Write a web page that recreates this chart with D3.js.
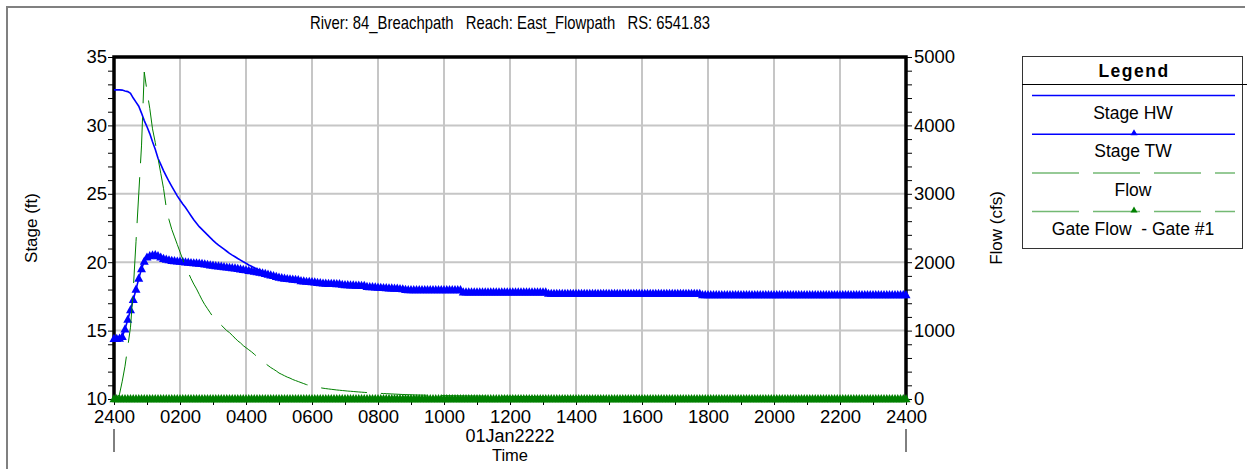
<!DOCTYPE html>
<html>
<head>
<meta charset="utf-8">
<script src="https://cdn.jsdelivr.net/npm/d3@7"></script>
<style>
    body { margin: 0; background: #fff; }
    text { font-family: "Liberation Sans", Arial, sans-serif; fill: #000; }
</style>
</head>
<body>
<svg id="chart" width="1250" height="469"></svg>
<script>
// values every 5 minutes, one row = 1 hour
const stepHours = 5 / 60;

const stageHW = [
    32.6, 32.6, 32.6, 32.58, 32.52, 32.47, 32.35, 32.0, 31.7, 31.4, 30.9, 30.35,
    29.9, 29.4, 28.8, 28.25, 27.6, 27.15, 26.7, 26.3, 25.9, 25.55, 25.2, 24.85,
    24.55, 24.25, 24.0, 23.7, 23.4, 23.1, 22.85, 22.6, 22.4, 22.2, 22.0, 21.8,
    21.6, 21.42, 21.25, 21.1, 20.95, 20.8, 20.65, 20.52, 20.4, 20.27, 20.15, 20.03,
    19.92, 19.8, 19.7, 19.6, 19.5, 19.41, 19.32, 19.24, 19.15, 19.09, 19.02, 18.96,
    18.9, 18.86, 18.83, 18.81, 18.79, 18.77, 18.75, 18.73, 18.66, 18.63, 18.61, 18.6,
    18.58, 18.56, 18.53, 18.51, 18.48, 18.47, 18.46, 18.46, 18.44, 18.43, 18.42, 18.39,
    18.36, 18.35, 18.34, 18.33, 18.32, 18.31, 18.3, 18.29, 18.23, 18.21, 18.2, 18.19,
    18.17, 18.16, 18.14, 18.13, 18.12, 18.11, 18.1, 18.09, 18.07, 18.05, 18.0, 17.99,
    17.98, 17.98, 17.98, 17.98, 17.98, 17.98, 17.98, 17.98, 17.98, 17.98, 17.98, 17.98,
    17.98, 17.98, 17.98, 17.98, 17.98, 17.98, 17.98, 17.81, 17.81, 17.81, 17.81, 17.81,
    17.81, 17.81, 17.81, 17.81, 17.81, 17.81, 17.81, 17.81, 17.81, 17.81, 17.81, 17.81,
    17.81, 17.81, 17.81, 17.81, 17.81, 17.81, 17.81, 17.81, 17.81, 17.81, 17.81, 17.81,
    17.81, 17.81, 17.71, 17.71, 17.71, 17.71, 17.71, 17.71, 17.71, 17.71, 17.71, 17.71,
    17.71, 17.71, 17.71, 17.71, 17.71, 17.71, 17.71, 17.71, 17.71, 17.71, 17.71, 17.71,
    17.71, 17.71, 17.71, 17.71, 17.71, 17.71, 17.71, 17.71, 17.71, 17.71, 17.71, 17.71,
    17.71, 17.71, 17.71, 17.71, 17.71, 17.71, 17.71, 17.71, 17.71, 17.71, 17.71, 17.71,
    17.71, 17.71, 17.71, 17.71, 17.71, 17.71, 17.71, 17.71, 17.71, 17.71, 17.61, 17.61,
    17.61, 17.61, 17.61, 17.61, 17.61, 17.61, 17.61, 17.61, 17.61, 17.61, 17.61, 17.61,
    17.61, 17.61, 17.61, 17.61, 17.61, 17.61, 17.61, 17.61, 17.61, 17.61, 17.61, 17.61,
    17.61, 17.61, 17.61, 17.61, 17.61, 17.61, 17.61, 17.61, 17.61, 17.61, 17.61, 17.61,
    17.61, 17.61, 17.61, 17.61, 17.61, 17.61, 17.61, 17.61, 17.61, 17.61, 17.61, 17.61,
    17.61, 17.61, 17.61, 17.61, 17.61, 17.61, 17.61, 17.61, 17.61, 17.61, 17.61, 17.61,
    17.61, 17.61, 17.61, 17.61, 17.61, 17.61, 17.61, 17.61, 17.61, 17.61, 17.61, 17.61,
    17.61
];

const stageTW = [
    14.4, 14.4, 14.42, 14.55, 15.1, 15.8, 16.5, 17.25, 18.0, 18.8, 19.5, 20.05,
    20.35, 20.45, 20.5, 20.52, 20.45, 20.35, 20.25, 20.2, 20.15, 20.1, 20.08, 20.06,
    20.05, 20.03, 20.0, 19.98, 19.95, 19.93, 19.92, 19.9, 19.88, 19.85, 19.82, 19.78,
    19.75, 19.72, 19.7, 19.68, 19.65, 19.62, 19.6, 19.58, 19.55, 19.52, 19.48, 19.45,
    19.42, 19.38, 19.35, 19.32, 19.28, 19.24, 19.2, 19.15, 19.1, 19.05, 19.0, 18.94,
    18.88, 18.84, 18.8, 18.78, 18.76, 18.74, 18.72, 18.7, 18.62, 18.6, 18.58, 18.57,
    18.55, 18.53, 18.5, 18.48, 18.45, 18.44, 18.43, 18.43, 18.42, 18.41, 18.4, 18.36,
    18.33, 18.33, 18.32, 18.31, 18.3, 18.29, 18.28, 18.27, 18.2, 18.19, 18.18, 18.17,
    18.15, 18.14, 18.12, 18.11, 18.1, 18.09, 18.08, 18.07, 18.05, 18.03, 17.98, 17.97,
    17.97, 17.97, 17.97, 17.97, 17.97, 17.97, 17.97, 17.97, 17.97, 17.97, 17.97, 17.97,
    17.97, 17.97, 17.97, 17.97, 17.97, 17.97, 17.97, 17.8, 17.8, 17.8, 17.8, 17.8,
    17.8, 17.8, 17.8, 17.8, 17.8, 17.8, 17.8, 17.8, 17.8, 17.8, 17.8, 17.8,
    17.8, 17.8, 17.8, 17.8, 17.8, 17.8, 17.8, 17.8, 17.8, 17.8, 17.8, 17.8,
    17.8, 17.8, 17.7, 17.7, 17.7, 17.7, 17.7, 17.7, 17.7, 17.7, 17.7, 17.7,
    17.7, 17.7, 17.7, 17.7, 17.7, 17.7, 17.7, 17.7, 17.7, 17.7, 17.7, 17.7,
    17.7, 17.7, 17.7, 17.7, 17.7, 17.7, 17.7, 17.7, 17.7, 17.7, 17.7, 17.7,
    17.7, 17.7, 17.7, 17.7, 17.7, 17.7, 17.7, 17.7, 17.7, 17.7, 17.7, 17.7,
    17.7, 17.7, 17.7, 17.7, 17.7, 17.7, 17.7, 17.7, 17.7, 17.7, 17.6, 17.6,
    17.6, 17.6, 17.6, 17.6, 17.6, 17.6, 17.6, 17.6, 17.6, 17.6, 17.6, 17.6,
    17.6, 17.6, 17.6, 17.6, 17.6, 17.6, 17.6, 17.6, 17.6, 17.6, 17.6, 17.6,
    17.6, 17.6, 17.6, 17.6, 17.6, 17.6, 17.6, 17.6, 17.6, 17.6, 17.6, 17.6,
    17.6, 17.6, 17.6, 17.6, 17.6, 17.6, 17.6, 17.6, 17.6, 17.6, 17.6, 17.6,
    17.6, 17.6, 17.6, 17.6, 17.6, 17.6, 17.6, 17.6, 17.6, 17.6, 17.6, 17.6,
    17.6, 17.6, 17.6, 17.6, 17.6, 17.6, 17.6, 17.6, 17.6, 17.6, 17.6, 17.6,
    17.6
];

const flow = [
    0, 10, 70, 260, 480, 760, 1050, 1600, 2300, 3000, 3700, 4780,
    4500, 4250, 3950, 3750, 3520, 3300, 3080, 2800, 2620, 2480, 2370, 2260,
    2150, 2040, 1940, 1850, 1760, 1680, 1610, 1530, 1450, 1380, 1320, 1260,
    1200, 1160, 1120, 1080, 1040, 1000, 970, 930, 890, 850, 820, 780,
    750, 720, 690, 655, 620, 585, 550, 520, 490, 460, 435, 410,
    380, 360, 340, 320, 305, 285, 270, 255, 240, 225, 210, 200,
    190, 181, 172, 165, 158, 152, 147, 142, 137, 132, 128, 124,
    120, 116, 113, 110, 106, 103, 100, 97, 94, 91, 89, 86,
    84, 82, 80, 78, 76, 74, 72, 70, 68, 66, 65, 63,
    62, 60, 59, 58, 57, 56, 55, 54, 53, 52, 51, 50,
    49, 49, 48, 48, 47, 47, 46, 46, 45, 45, 44, 44,
    43, 43, 42, 42, 41, 41, 40, 40, 40, 39, 39, 39,
    38, 38, 38, 37, 37, 37, 36, 36, 36, 35, 35, 35,
    34, 34, 34, 34, 33, 33, 33, 33, 32, 32, 32, 32,
    31, 31, 31, 31, 31, 31, 30, 30, 30, 30, 30, 30,
    30, 30, 29, 29, 29, 29, 29, 29, 28, 28, 28, 28,
    28, 28, 27, 27, 27, 27, 27, 27, 27, 26, 26, 26,
    26, 26, 26, 26, 26, 26, 25, 25, 25, 25, 25, 25,
    25, 25, 25, 25, 25, 25, 25, 25, 25, 25, 25, 25,
    24, 24, 24, 24, 24, 24, 24, 24, 24, 24, 24, 24,
    24, 24, 24, 24, 24, 24, 23, 23, 23, 23, 23, 23,
    23, 23, 23, 23, 23, 23, 23, 23, 23, 23, 23, 23,
    22, 22, 22, 22, 22, 22, 22, 22, 22, 22, 22, 22,
    22, 22, 22, 22, 22, 22, 21, 21, 21, 21, 21, 21,
    21
];

const gateFlow = [
    0, 0, 0, 0, 0, 0, 0, 0, 0, 0, 0, 0,
    0, 0, 0, 0, 0, 0, 0, 0, 0, 0, 0, 0,
    0, 0, 0, 0, 0, 0, 0, 0, 0, 0, 0, 0,
    0, 0, 0, 0, 0, 0, 0, 0, 0, 0, 0, 0,
    0, 0, 0, 0, 0, 0, 0, 0, 0, 0, 0, 0,
    0, 0, 0, 0, 0, 0, 0, 0, 0, 0, 0, 0,
    0, 0, 0, 0, 0, 0, 0, 0, 0, 0, 0, 0,
    0, 0, 0, 0, 0, 0, 0, 0, 0, 0, 0, 0,
    0, 0, 0, 0, 0, 0, 0, 0, 0, 0, 0, 0,
    0, 0, 0, 0, 0, 0, 0, 0, 0, 0, 0, 0,
    0, 0, 0, 0, 0, 0, 0, 0, 0, 0, 0, 0,
    0, 0, 0, 0, 0, 0, 0, 0, 0, 0, 0, 0,
    0, 0, 0, 0, 0, 0, 0, 0, 0, 0, 0, 0,
    0, 0, 0, 0, 0, 0, 0, 0, 0, 0, 0, 0,
    0, 0, 0, 0, 0, 0, 0, 0, 0, 0, 0, 0,
    0, 0, 0, 0, 0, 0, 0, 0, 0, 0, 0, 0,
    0, 0, 0, 0, 0, 0, 0, 0, 0, 0, 0, 0,
    0, 0, 0, 0, 0, 0, 0, 0, 0, 0, 0, 0,
    0, 0, 0, 0, 0, 0, 0, 0, 0, 0, 0, 0,
    0, 0, 0, 0, 0, 0, 0, 0, 0, 0, 0, 0,
    0, 0, 0, 0, 0, 0, 0, 0, 0, 0, 0, 0,
    0, 0, 0, 0, 0, 0, 0, 0, 0, 0, 0, 0,
    0, 0, 0, 0, 0, 0, 0, 0, 0, 0, 0, 0,
    0, 0, 0, 0, 0, 0, 0, 0, 0, 0, 0, 0,
    0
];

const timeLabels = ["2400", "0200", "0400", "0600", "0800", "1000", "1200",
                    "1400", "1600", "1800", "2000", "2200", "2400"];
const stageLabels = [10, 15, 20, 25, 30, 35];
const flowLabels = [0, 1000, 2000, 3000, 4000, 5000];
const legendNames = ["Stage HW", "Stage TW", "Flow", "Gate Flow  - Gate #1"];

const title = "River: 84_Breachpath   Reach: East_Flowpath   RS: 6541.83";

// layout
const L = 114, R = 906, T = 57, B = 399;
const blue = "#0000ff", green = "#008000";
const tri = "M0,-5L4.5,3.2L-4.5,3.2Z";

const svg = d3.select("#chart");

let x = d3.scaleLinear().domain([0, 24]).range([L, R]);
let yStage = d3.scaleLinear().domain([10, 35]).range([B, T]);
let yFlow = d3.scaleLinear().domain([0, 5000]).range([B, T]);

// outer frame (top + left only)
svg.append("path")
    .attr("d", "M7,469V7H1245")
    .attr("fill", "none")
    .attr("stroke", "#808080")
    .attr("stroke-width", 2);

svg.append("text")
    .attr("x", (L + R) / 2).attr("y", 29)
    .attr("text-anchor", "middle")
    .attr("textLength", 400)
    .attr("lengthAdjust", "spacingAndGlyphs")
    .style("font-size", "19px")
    .style("white-space", "pre")
    .text(title);

// grid
let grid = svg.append("g").attr("stroke", "#c6c6c6").attr("stroke-width", 2);
grid.selectAll(".gx")
    .data(d3.range(2, 24, 2))
    .enter().append("line")
    .attr("x1", d => x(d)).attr("x2", d => x(d))
    .attr("y1", T).attr("y2", B);
grid.selectAll(".gy")
    .data(stageLabels.slice(1, -1))
    .enter().append("line")
    .attr("x1", L).attr("x2", R)
    .attr("y1", d => yStage(d)).attr("y2", d => yStage(d));

// axes
let axisX = d3.axisBottom(x)
    .tickValues(d3.range(0, 25, 1))
    .tickSize(6).tickPadding(5)
    .tickFormat(d => d % 2 === 0 ? timeLabels[d / 2] : "");
let axisL = d3.axisLeft(yStage)
    .tickValues(d3.range(10, 36, 1))
    .tickSize(6).tickPadding(1)
    .tickFormat(d => stageLabels.includes(d) ? d : "");
let axisR = d3.axisRight(yFlow)
    .tickValues(d3.range(0, 5001, 200))
    .tickSize(6).tickPadding(2)
    .tickFormat(d => flowLabels.includes(d) ? d : "");

let styleAxis = (g) => {
    g.select(".domain").remove();
    g.selectAll("line").attr("stroke", "#000");
    g.selectAll("text")
        .style("font-family", "'Liberation Sans', Arial, sans-serif")
        .style("font-size", "18.5px");
};

svg.append("g").attr("transform", `translate(0,${B})`).call(axisX).call(styleAxis);
svg.append("g").attr("transform", `translate(${L},0)`).call(axisL).call(styleAxis);
svg.append("g").attr("transform", `translate(${R},0)`).call(axisR).call(styleAxis);

// day marks under the first and last tick
svg.selectAll(".day")
    .data([0, 24])
    .enter().append("line")
    .attr("x1", d => x(d)).attr("x2", d => x(d))
    .attr("y1", 429).attr("y2", 452)
    .attr("stroke", "#000");

svg.append("text")
    .attr("x", (L + R) / 2).attr("y", 442)
    .attr("text-anchor", "middle")
    .style("font-size", "18px")
    .text("01Jan2222");
svg.append("text")
    .attr("x", (L + R) / 2).attr("y", 461)
    .attr("text-anchor", "middle")
    .style("font-size", "16.5px")
    .text("Time");

svg.append("text")
    .attr("transform", `translate(37,${(T + B) / 2}) rotate(-90)`)
    .attr("text-anchor", "middle")
    .style("font-size", "17px")
    .text("Stage (ft)");
svg.append("text")
    .attr("transform", `translate(1002,${(T + B) / 2}) rotate(-90)`)
    .attr("text-anchor", "middle")
    .style("font-size", "17px")
    .text("Flow (cfs)");

// series
let drawSeries = (values, scaleY, color, width, dash, marker) => {
    let pts = values.map((v, i) => [x(i * stepHours), scaleY(v)]);
    svg.append("path")
        .attr("d", d3.line()(pts))
        .attr("fill", "none")
        .attr("stroke", color)
        .attr("stroke-width", width)
        .attr("stroke-dasharray", dash);
    if (marker) {
        svg.append("g").selectAll("path")
            .data(pts)
            .enter().append("path")
            .attr("d", tri)
            .attr("transform", d => `translate(${d[0]},${d[1]})`)
            .attr("fill", color);
    }
};

// plot frame under the marks
svg.append("rect")
    .attr("x", L).attr("y", T)
    .attr("width", R - L).attr("height", B - T)
    .attr("fill", "none")
    .attr("stroke", "#000")
    .attr("stroke-width", 3.5);

drawSeries(stageHW, yStage, blue, 1.6, null, false);
drawSeries(stageTW, yStage, blue, 1.6, null, true);
drawSeries(flow, yFlow, green, 1, "46,14", false);
drawSeries(gateFlow, yFlow, green, 1, "46,14", true);

// legend
let lg = svg.append("g");
lg.append("rect")
    .attr("x", 1022.5).attr("y", 56.5)
    .attr("width", 220).attr("height", 192)
    .attr("fill", "#fff").attr("stroke", "#333");
lg.append("line")
    .attr("x1", 1022).attr("x2", 1247)
    .attr("y1", 84.5).attr("y2", 84.5)
    .attr("stroke", "#000");
lg.append("text")
    .attr("x", 1134).attr("y", 77)
    .attr("text-anchor", "middle")
    .style("font-size", "17.5px").style("font-weight", "bold")
    .style("letter-spacing", "1.5px")
    .text("Legend");

let legendStyle = [
    {color: blue, dash: null, marker: false, op: 1},
    {color: blue, dash: null, marker: true, op: 1},
    {color: green, dash: "47,14", marker: false, op: 0.55},
    {color: green, dash: "47,14", marker: true, op: 0.55}
];
legendNames.forEach((name, i) => {
    let ly = 95.5 + i * 38.7;
    let s = legendStyle[i];
    lg.append("line")
        .attr("x1", 1032).attr("x2", 1235)
        .attr("y1", ly).attr("y2", ly)
        .attr("stroke", s.color)
        .attr("stroke-opacity", s.op)
        .attr("stroke-width", 1.5)
        .attr("stroke-dasharray", s.dash);
    if (s.marker) {
        lg.append("path")
            .attr("d", "M0,-4L3.5,2L-3.5,2Z")
            .attr("transform", `translate(1134,${ly - 1})`)
            .attr("fill", s.color);
    }
    lg.append("text")
        .attr("x", 1133).attr("y", ly + 23)
        .attr("text-anchor", "middle")
        .style("font-size", "17.5px")
        .style("white-space", "pre")
        .text(name);
});
</script>
</body>
</html>
